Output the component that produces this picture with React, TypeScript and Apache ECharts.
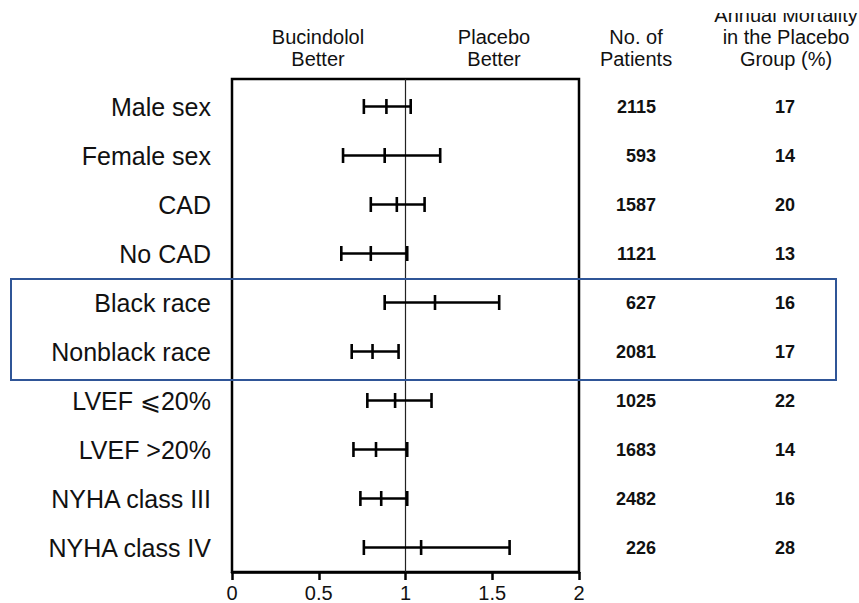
import React, { useEffect, useRef } from "react";
import * as echarts from "echarts";

const categories = [
  "Male sex",
  "Female sex",
  "CAD",
  "No CAD",
  "Black race",
  "Nonblack race",
  "LVEF ⩽20%",
  "LVEF >20%",
  "NYHA class III",
  "NYHA class IV",
];
const hazard = [0.89, 0.88, 0.95, 0.8, 1.17, 0.81, 0.94, 0.83, 0.86, 1.09];
const ciLow = [0.76, 0.64, 0.8, 0.63, 0.88, 0.69, 0.78, 0.7, 0.74, 0.76];
const ciHigh = [1.03, 1.2, 1.11, 1.01, 1.54, 0.96, 1.15, 1.01, 1.01, 1.6];
const patients = ["2115", "593", "1587", "1121", "627", "2081", "1025", "1683", "2482", "226"];
const mortality = ["17", "14", "20", "13", "16", "17", "22", "14", "16", "28"];
const xTicks = [0, 0.5, 1, 1.5, 2];
const referenceValue = 1;

const FONT = "'Liberation Sans', Arial, Helvetica, sans-serif";

export default function App() {
  const ref = useRef<HTMLDivElement>(null);
  useEffect(() => {
    if (!ref.current) return;
    const chart = echarts.init(ref.current, undefined, { renderer: "svg" });
    const data = categories.map((_, i) => [i, ciLow[i], hazard[i], ciHigh[i]]);
    const headerStyle = {
      fontSize: 20,
      lineHeight: 22,
      fill: "#111",
      align: "center",
      verticalAlign: "middle",
      fontFamily: FONT,
    };
    const boxTop = 79;
    const boxBottom = 572;
    chart.setOption({
      animation: false,
      textStyle: { fontFamily: FONT },
      grid: {
        left: 232,
        right: 280,
        top: 82,
        bottom: 31,
        show: false,
      },
      xAxis: {
        type: "value",
        min: xTicks[0],
        max: xTicks[xTicks.length - 1],
        interval: 0.5,
        splitLine: { show: false },
        axisLine: { show: true, lineStyle: { color: "#000", width: 2.5 } },
        axisTick: { show: true, length: 8, lineStyle: { color: "#000", width: 2.5 } },
        axisLabel: {
          fontSize: 20,
          color: "#111",
          margin: 11,
          fontFamily: FONT,
          formatter: (v: number) => String(v),
        },
      },
      yAxis: [
        {
          type: "category",
          data: categories,
          inverse: true,
          axisLine: { show: false },
          axisTick: { show: false },
          axisLabel: { fontSize: 25, color: "#111", margin: 21, fontFamily: FONT },
        },
        {
          type: "category",
          data: patients,
          inverse: true,
          position: "right",
          axisLine: { show: false },
          axisTick: { show: false },
          axisLabel: {
            fontSize: 18,
            fontWeight: "bold",
            color: "#111",
            margin: 77,
            align: "right",
            fontFamily: FONT,
          },
        },
        {
          type: "category",
          data: mortality,
          inverse: true,
          position: "right",
          axisLine: { show: false },
          axisTick: { show: false },
          axisLabel: {
            fontSize: 18,
            fontWeight: "bold",
            color: "#111",
            margin: 216,
            align: "right",
            fontFamily: FONT,
          },
        },
      ],
      series: [
        {
          type: "custom",
          xAxisIndex: 0,
          yAxisIndex: 0,
          data,
          encode: { x: [1, 2, 3], y: 0 },
          renderItem: (params: any, api: any) => {
            const y = api.value(0);
            const lo = api.coord([api.value(1), y]);
            const mid = api.coord([api.value(2), y]);
            const hi = api.coord([api.value(3), y]);
            const h = 7.5;
            const st = { stroke: "#000", lineWidth: 2.6 };
            return {
              type: "group",
              children: [
                { type: "line", shape: { x1: lo[0], y1: lo[1], x2: hi[0], y2: hi[1] }, style: st },
                { type: "line", shape: { x1: lo[0], y1: lo[1] - h, x2: lo[0], y2: lo[1] + h }, style: st },
                { type: "line", shape: { x1: mid[0], y1: mid[1] - h, x2: mid[0], y2: mid[1] + h }, style: st },
                { type: "line", shape: { x1: hi[0], y1: hi[1] - h, x2: hi[0], y2: hi[1] + h }, style: st },
              ],
            };
          },
          z: 3,
        },
      ],
    });
    const x0 = chart.convertToPixel({ xAxisIndex: 0 }, xTicks[0]) as number;
    const x2 = chart.convertToPixel({ xAxisIndex: 0 }, xTicks[xTicks.length - 1]) as number;
    const x1 = chart.convertToPixel({ xAxisIndex: 0 }, referenceValue) as number;
    chart.setOption({
      graphic: [
        {
          type: "rect",
          shape: { x: x0, y: boxTop, width: x2 - x0, height: boxBottom - boxTop },
          style: { fill: "none", stroke: "#000", lineWidth: 2.5 },
          z: 1,
        },
        {
          type: "line",
          shape: { x1: x1, y1: boxTop, x2: x1, y2: boxBottom },
          style: { stroke: "#222", lineWidth: 1.2 },
          z: 1,
        },
        {
          type: "rect",
          shape: { x: 11, y: 279, width: 825, height: 101 },
          style: { fill: "none", stroke: "#2F5597", lineWidth: 2 },
          z: 10,
        },
        { type: "text", x: 318, y: 48, style: { ...headerStyle, text: "Bucindolol\nBetter" } },
        { type: "text", x: 494, y: 48, style: { ...headerStyle, text: "Placebo\nBetter" } },
        { type: "text", x: 636, y: 48, style: { ...headerStyle, text: "No. of\nPatients" } },
        {
          type: "text",
          x: 786,
          y: 37,
          style: { ...headerStyle, text: "Annual Mortality\nin the Placebo\nGroup (%)" },
        },
        {
          type: "rect",
          shape: { x: 690, y: 0, width: 169, height: 13 },
          style: { fill: "#fff", stroke: "none" },
          z: 20,
        },
      ],
    });
    return () => chart.dispose();
  }, []);
  return <div ref={ref} style={{ width: 859, height: 603, position: "absolute", left: 0, top: 0 }} />;
}
